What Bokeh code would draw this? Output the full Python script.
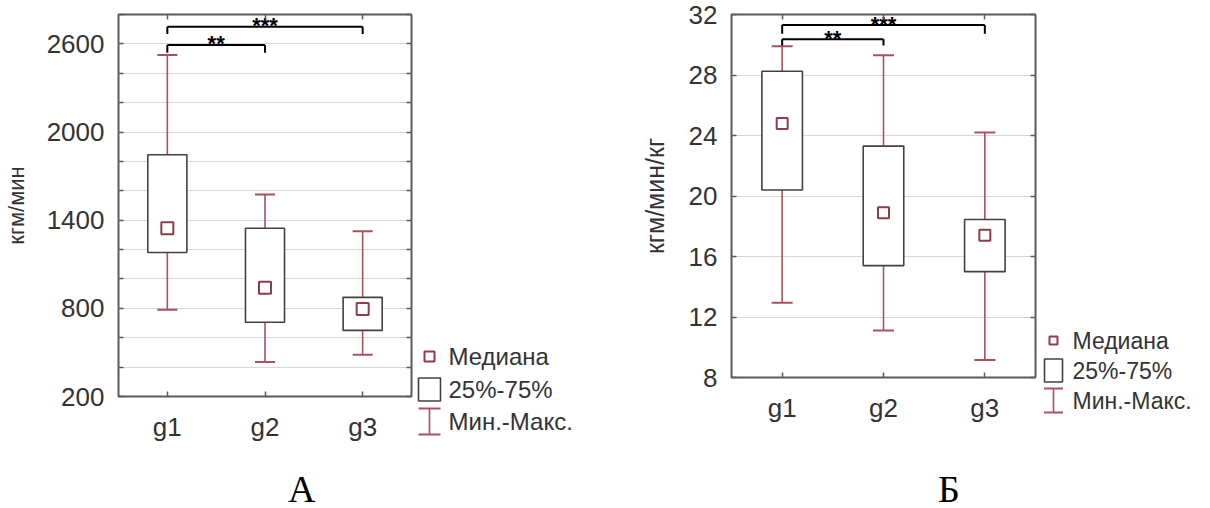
from bokeh.plotting import figure
from bokeh.models import Range1d, FixedTicker, LinearAxis, Div
from bokeh.layouts import row, column
from bokeh.core.properties import value
from bokeh.embed import file_html
from bokeh.resources import INLINE

# ---------------- data ----------------
groups = ["g1", "g2", "g3"]

# Panel A (кгм/мин)
a_min = [790, 435, 485]
a_q1 = [1180, 705, 650]
a_med = [1345, 940, 795]
a_q3 = [1845, 1345, 875]
a_max = [2525, 1575, 1325]
a_ticks = list(range(200, 2801, 200))
a_labels = [200, 800, 1400, 2000, 2600]

# Panel Б (кгм/мин/кг)
b_min = [12.95, 11.1, 9.15]
b_q1 = [20.4, 15.4, 15.0]
b_med = [24.8, 18.9, 17.4]
b_q3 = [28.25, 23.3, 18.45]
b_max = [29.9, 29.3, 24.2]
b_ticks = [8, 12, 16, 20, 24, 28, 32]
b_labels = [8, 12, 16, 20, 24, 28, 32]

# significance brackets: (from, to), bar level, drop level, label
a_br_pairs = [(0, 1), (0, 2)]
a_br_level = [2593, 2716]
a_br_drop = [2539, 2668]
b_br_pairs = [(0, 1), (0, 2)]
b_br_level = [30.36, 31.3]
b_br_drop = [29.95, 30.72]
br_text = ["**", "***"]

legend_texts = ["Медиана", "25%-75%", "Мин.-Макс."]

FONT = "Liberation Sans"
TXT = "#333333"
WHISK = "#a8525f"
MED = "#8e3d4b"
BOXC = "#454040"
FRAME = "#5a5a5a"


def panel(width, height, mbl, mbr, mbt, mbb, yr, ticks, shown, ylabel, lab_size,
          lab_standoff, mins, q1s, meds, q3s, maxs, pairs, levels, drops, cap, msize):
    xs = [i + 1 for i in range(len(groups))]
    p = figure(width=width, height=height, output_backend="svg",
               toolbar_location=None, x_range=Range1d(0.5, 3.5),
               y_range=Range1d(*yr), min_border_left=mbl, min_border_right=mbr,
               min_border_top=mbt, min_border_bottom=mbb)
    p.outline_line_color = FRAME
    p.outline_line_width = 2
    p.background_fill_color = "white"
    p.border_fill_color = "white"

    p.xaxis.ticker = FixedTicker(ticks=xs)
    p.xaxis.major_label_overrides = {x: g for x, g in zip(xs, groups)}
    p.yaxis.ticker = FixedTicker(ticks=ticks)
    p.yaxis.major_label_overrides = {t: (str(t) if t in shown else "") for t in ticks}
    for ax in (p.xaxis, p.yaxis):
        ax.axis_line_color = None
        ax.major_tick_in = 5
        ax.major_tick_out = 0
        ax.major_tick_line_color = FRAME
        ax.major_tick_line_width = 1.5
        ax.minor_tick_line_color = None
        ax.major_label_text_font = FONT
        ax.major_label_text_font_size = "26px"
        ax.major_label_text_color = TXT
    p.xaxis.major_label_standoff = 15
    p.yaxis.major_label_standoff = 14
    p.yaxis.axis_label = ylabel
    p.yaxis.axis_label_text_font = FONT
    p.yaxis.axis_label_text_font_size = lab_size
    p.yaxis.axis_label_text_font_style = "normal"
    p.yaxis.axis_label_text_color = TXT
    p.yaxis.axis_label_standoff = lab_standoff

    # mirrored axes (ticks only)
    for loc, tk in (("above", xs), ("right", ticks)):
        ax = LinearAxis(ticker=FixedTicker(ticks=tk), axis_line_color=None,
                        major_tick_in=5, major_tick_out=0,
                        major_tick_line_color=FRAME, major_tick_line_width=1.5,
                        minor_tick_line_color=None,
                        major_label_overrides={t: "" for t in tk},
                        major_label_text_font_size="1px", major_label_standoff=0)
        p.add_layout(ax, loc)

    p.xgrid.visible = False
    p.ygrid.ticker = FixedTicker(ticks=ticks)
    p.ygrid.grid_line_color = "#d6d6d6"
    p.ygrid.grid_line_width = 1.2

    # whiskers
    p.segment(x0=xs, x1=xs, y0=q3s, y1=maxs, line_color=WHISK, line_width=1.6)
    p.segment(x0=xs, x1=xs, y0=mins, y1=q1s, line_color=WHISK, line_width=1.6)
    p.scatter(x=xs, y=maxs, marker="dash", size=cap, line_color=WHISK, line_width=2)
    p.scatter(x=xs, y=mins, marker="dash", size=cap, line_color=WHISK, line_width=2)
    # boxes
    p.vbar(x=xs, width=0.4, bottom=q1s, top=q3s, fill_color="white",
           line_color=BOXC, line_width=1.6)
    # medians
    p.scatter(x=xs, y=meds, marker="square", size=msize, fill_color="white",
              line_color=MED, line_width=2)

    # significance brackets
    x0 = [xs[a] for a, b in pairs]
    x1 = [xs[b] for a, b in pairs]
    p.segment(x0=x0, x1=x1, y0=levels, y1=levels, line_color="black", line_width=2)
    p.segment(x0=x0, x1=x0, y0=levels, y1=drops, line_color="black", line_width=2)
    p.segment(x0=x1, x1=x1, y0=levels, y1=drops, line_color="black", line_width=2)
    p.text(x=[(a + b) / 2 for a, b in zip(x0, x1)], y=levels, text=br_text,
           text_align="center", text_baseline="alphabetic", y_offset=-1,
           text_font=value(FONT), text_font_size="22px", text_font_style="bold",
           text_color="black")
    return p


def add_legend(p, geo, cx, tx, ys, med_size, box_w, box_h, cap_w, wh_h, fsize):
    """Legend drawn outside the frame (overlay level, not clipped).
    Positions are given in page pixels and mapped through the panel geometry."""
    fl, ft, fw, fh, (x0r, x1r), (y0r, y1r) = geo

    def X(px):
        return x0r + (px - fl) * (x1r - x0r) / fw

    def Y(py):
        return y1r - (py - ft) * (y1r - y0r) / fh

    ym, yb, yw = ys
    p.quad(left=[X(cx - med_size / 2)], right=[X(cx + med_size / 2)],
           top=[Y(ym - med_size / 2)], bottom=[Y(ym + med_size / 2)],
           fill_color="white", line_color=MED, line_width=2, level="overlay")
    p.quad(left=[X(cx - box_w / 2)], right=[X(cx + box_w / 2)],
           top=[Y(yb - box_h / 2)], bottom=[Y(yb + box_h / 2)],
           fill_color="white", line_color=BOXC, line_width=1.6, level="overlay")
    p.segment(x0=[X(cx)], x1=[X(cx)], y0=[Y(yw - wh_h / 2)], y1=[Y(yw + wh_h / 2)],
              line_color=WHISK, line_width=1.6, level="overlay")
    p.segment(x0=[X(cx - cap_w / 2)] * 2, x1=[X(cx + cap_w / 2)] * 2,
              y0=[Y(yw - wh_h / 2), Y(yw + wh_h / 2)],
              y1=[Y(yw - wh_h / 2), Y(yw + wh_h / 2)],
              line_color=WHISK, line_width=2, level="overlay")
    p.text(x=[X(tx)] * 3, y=[Y(v) for v in ys], text=legend_texts,
           text_align="left", text_baseline="middle", text_font=value(FONT),
           text_font_size=fsize, text_color=TXT, level="overlay")


# panel A: frame 118..411 x 14..396 (page pixels)
pA = panel(592, 460, 118, 181, 14, 64, (200, 2800), a_ticks, a_labels, "кгм/мин",
           "22px", 15, a_min, a_q1, a_med, a_q3, a_max,
           a_br_pairs, a_br_level, a_br_drop, 20, 12)
add_legend(pA, (118, 14, 293, 382, (0.5, 3.5), (200, 2800)),
           429, 448, (356, 389, 421), 10, 22, 23, 22, 26, "24px")

# panel Б: frame 733..1037 x 14..377 (page pixels)
pB = panel(602, 441, 139, 159, 14, 64, (8, 32), b_ticks, b_labels, "кгм/мин/кг",
           "25px", 17, b_min, b_q1, b_med, b_q3, b_max,
           b_br_pairs, b_br_level, b_br_drop, 21, 11)
add_legend(pB, (733, 14, 304, 363, (0.5, 3.5), (8, 32)),
           1055, 1074, (340, 370, 400), 8, 18, 23, 19, 24, "23px")

letters = Div(width=1194, height=32, text=(
    '<div style="position:relative;width:1194px;height:32px;'
    'font-family:\'Liberation Serif\';font-size:38px;line-height:28px;color:#000">'
    '<span style="position:absolute;left:283px;top:10px">А</span>'
    '<span style="position:absolute;left:933px;top:10px">Б</span></div>'))

layout = column(row(pA, pB), letters)

open("out.html", "w").write(file_html(layout, INLINE))
